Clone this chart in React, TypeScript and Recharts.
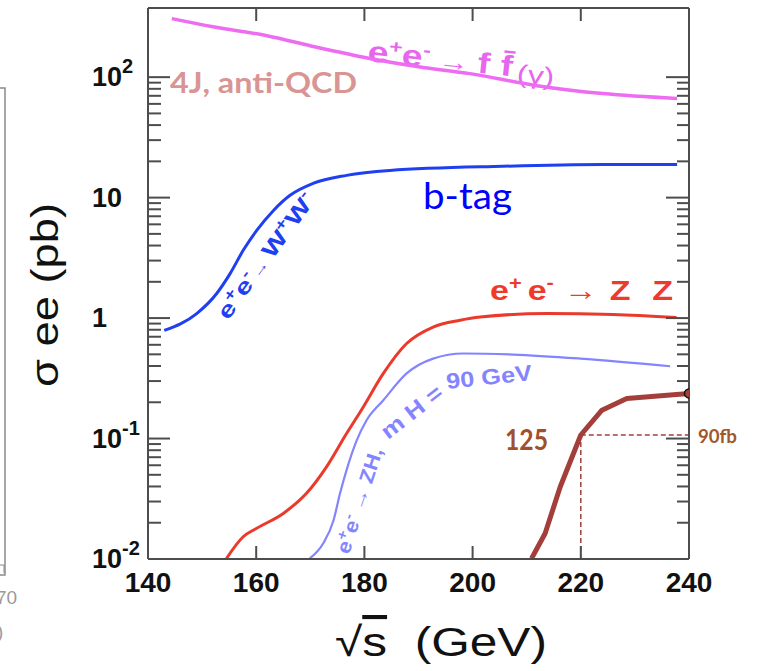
import React from 'react';
import { LineChart, Line, XAxis, YAxis, ReferenceLine, Customized } from 'recharts';

// ---------- data ----------
const ffX = [144.4, 152.0, 162.0, 171.0, 181.0, 190.0, 199.5, 211.9, 224.1, 237.8];
const ffY = [306, 262, 221, 178, 143, 122, 107, 85, 73, 66.5];

const wwX = [143.0, 149.0, 152.7, 155.2, 157.6, 160.1, 163.2, 166.2, 170.5, 176.7, 184.7, 205.6, 224.1, 237.8];
const wwY = [0.79, 1.09, 1.6, 2.35, 3.65, 5.35, 7.83, 10.4, 13.1, 15.3, 16.8, 18.2, 18.8, 18.8];

const zzX = [154.5, 157.6, 160.1, 165.0, 169.3, 173.0, 176.7, 179.8, 183.5, 187.8, 192.7, 197.7, 201.4, 213.7, 226.0, 237.7];
const zzY = [0.0101, 0.0153, 0.018, 0.0239, 0.0351, 0.0582, 0.11, 0.183, 0.347, 0.615, 0.843, 0.96, 1.02, 1.09, 1.07, 1.01];

const zhX = [169.9, 172.4, 174.3, 175.5, 176.7, 178.6, 180.4, 183.5, 187.8, 192.7, 198.3, 207.5, 219.9, 236.5];
const zhY = [0.0101, 0.0135, 0.021, 0.0351, 0.0547, 0.097, 0.142, 0.208, 0.347, 0.461, 0.508, 0.498, 0.461, 0.398];

const h125X = [210.9, 213.4, 216.2, 220.0, 223.9, 228.5, 240.0];
const h125Y = [0.0101, 0.0163, 0.0398, 0.107, 0.172, 0.215, 0.237];

const higgsX = 220;
const higgsXsec = 0.107;

const xTicks = [140, 160, 180, 200, 220, 240];
const xTickLabels = ['140', '160', '180', '200', '220', '240'];

const yDecades = [0.01, 0.1, 1, 10, 100];
const yDecadeBase = ['10', '10', '1', '10', '10'];
const yDecadeExp = ['-2', '-1', '', '', '2'];
const yMinorMult = [2, 3, 4, 5, 6, 7, 8, 9];

const xDomain = [140, 240];
const yDomain = [0.01, 375];

// ---------- derived tables ----------
const zip = (xs: number[], ys: number[]) => xs.map((x, i) => ({ x, y: ys[i] }));
const ffData = zip(ffX, ffY);
const wwData = zip(wwX, wwY);
const zzData = zip(zzX, zzY);
const zhData = zip(zhX, zhY);
const h125Data = zip(h125X, h125Y);

const yTicks: number[] = [];
yDecades.forEach((d, i) => {
  yTicks.push(d);
  if (i < yDecades.length - 1) yMinorMult.forEach((m) => yTicks.push(d * m));
});

// ---------- layout ----------
const W = 757;
const H = 671;
const PL = 148;
const PR = 689;
const PT = 8;
const PB = 559;
const FRAME = '#4d4d4d';
const SANS = "'Liberation Sans', Arial, Helvetica, sans-serif";
const CAL = "Lato, 'Open Sans', sans-serif";
const FIT = 'spacingAndGlyphs';

const LeftTick = (p: any) => {
  const v = p.payload.value;
  const k = yDecades.indexOf(v);
  const y = p.y;
  return (
    <g>
      <line x1={PL} x2={PL + (k >= 0 ? 22 : 13)} y1={y} y2={y} stroke={FRAME} strokeWidth={2} />
      {k >= 0 && (
        <text x={92} y={y + 9} fontSize={27} fontWeight="bold" fontFamily={SANS} fill="#111">
          {yDecadeBase[k]}
          {yDecadeExp[k] ? (
            <tspan dy={-13} fontSize={20}>
              {yDecadeExp[k]}
            </tspan>
          ) : null}
        </text>
      )}
    </g>
  );
};

const RightTick = (p: any) => {
  const v = p.payload.value;
  const k = yDecades.indexOf(v);
  const y = p.y;
  return <line x1={PR} x2={PR - (k >= 0 ? 23 : 12)} y1={y} y2={y} stroke={FRAME} strokeWidth={2} />;
};

const BottomTick = (p: any) => {
  const v = p.payload.value;
  const i = xTicks.indexOf(v);
  const x = p.x;
  const inner = v !== xDomain[0] && v !== xDomain[1];
  return (
    <g>
      {inner && <line x1={x} x2={x} y1={PB} y2={PB - 13} stroke={FRAME} strokeWidth={2} />}
      <text x={x} y={592} textAnchor="middle" fontSize={28} fontWeight="bold" fontFamily={SANS} fill="#111">
        {xTickLabels[i]}
      </text>
    </g>
  );
};

const TopTick = (p: any) => {
  const v = p.payload.value;
  const x = p.x;
  const inner = v !== xDomain[0] && v !== xDomain[1];
  return <g>{inner && <line x1={x} x2={x} y1={PT} y2={PT + 13} stroke={FRAME} strokeWidth={2} />}</g>;
};

const Annotations = () => (
  <g>
    {/* remnant of neighbouring figure at the left edge */}
    <polyline points="0,88 5,88 5,575 0,575" fill="none" stroke="#8a8a8a" strokeWidth={1.5} />
    <polyline points="0,565 4,565 4,573" fill="none" stroke="#8a8a8a" strokeWidth={1} />
    <text x={-4} y={604} fontSize={19} fill="#9a9a9a" fontFamily={SANS}>70</text>
    <text x={-3} y={638} fontSize={19} fill="#9a9a9a" fontFamily={SANS}>)</text>

    {/* e+e- -> f fbar (gamma) */}
    <text
      x={367}
      y={61}
      fill="#e766ee"
      fontWeight="bold"
      fontSize={29}
      fontFamily={SANS}
      transform="rotate(6 367 61)"
      textLength={188}
      lengthAdjust={FIT}
    >
      e<tspan dy={-11} fontSize={18}>+</tspan>
      <tspan dy={11}>e</tspan>
      <tspan dy={-11} fontSize={18}>-</tspan>
      <tspan dy={11} fontSize={24}> → </tspan>
      <tspan>f f̄</tspan>
      <tspan dy={5} dx={4} fontSize={25} fontWeight="normal">(γ)</tspan>
    </text>

    <text x={170} y={93} fill="#d99593" fontWeight="bold" fontSize={29} fontFamily={CAL} textLength={187} lengthAdjust={FIT}>
      4J, anti-QCD
    </text>

    <text x={423} y={209} fill="#0000ff" fontSize={36} fontFamily={CAL} textLength={89} lengthAdjust={FIT}>
      b-tag
    </text>

    {/* e+e- -> W+W- */}
    <text
      x={228}
      y={321}
      fill="#1e40f0"
      fontWeight="bold"
      fontSize={22}
      fontFamily={SANS}
      transform="rotate(-54 228 321)"
      textLength={150}
      lengthAdjust={FIT}
    >
      e<tspan dy={-9} fontSize={15}>+</tspan>
      <tspan dy={9}>e</tspan>
      <tspan dy={-9} fontSize={15}>-</tspan>
      <tspan dy={9} fontSize={14}>→ </tspan>
      <tspan>W</tspan>
      <tspan dy={-9} fontSize={15}>+</tspan>
      <tspan dy={9}>W</tspan>
      <tspan dy={-9} fontSize={15}>-</tspan>
    </text>

    {/* e+e- -> ZZ */}
    <text x={490} y={300} fill="#ee3a2a" fontWeight="bold" fontSize={28} fontFamily={SANS} textLength={183} lengthAdjust={FIT}>
      e<tspan dy={-11} fontSize={18}>+</tspan>
      <tspan dy={11} dx={5}>e</tspan>
      <tspan dy={-11} fontSize={18}>-</tspan>
      <tspan dy={11} dx={8} fontWeight="normal">→</tspan>
      <tspan dx={10}>Z</tspan>
      <tspan dx={18}>Z</tspan>
    </text>

    {/* e+e- -> ZH, mH = 90 GeV (curved along the line) */}
    <text
      x={349}
      y={555}
      fill="#8484ff"
      fontWeight="bold"
      fontSize={20}
      fontFamily={SANS}
      transform="rotate(-72 349 555)"
      textLength={110}
      lengthAdjust={FIT}
    >
      e<tspan dy={-8} fontSize={14}>+</tspan>
      <tspan dy={8}>e</tspan>
      <tspan dy={-8} fontSize={14}>-</tspan>
      <tspan dy={8}> → ZH,</tspan>
    </text>
    <text
      x={388}
      y={440}
      fill="#8484ff"
      fontWeight="bold"
      fontSize={22}
      fontFamily={SANS}
      transform="rotate(-38 388 440)"
      textLength={72}
      lengthAdjust={FIT}
    >
      m H =
    </text>
    <text
      x={447}
      y={389}
      fill="#8484ff"
      fontWeight="bold"
      fontSize={22}
      fontFamily={SANS}
      transform="rotate(-6 447 389)"
      textLength={86}
      lengthAdjust={FIT}
    >
      90 GeV
    </text>

    <text x={505} y={450} fill="#a0502a" fontWeight="bold" fontSize={29} fontFamily={CAL} textLength={43} lengthAdjust={FIT}>
      125
    </text>
    <text x={698} y={443} fill="#a0582a" fontWeight="bold" fontSize={19} fontFamily={CAL} textLength={39} lengthAdjust={FIT}>
      90fb
    </text>

    {/* axis titles */}
    <text
      x={45}
      y={295}
      textAnchor="middle"
      dominantBaseline="central"
      fontSize={38}
      fontFamily={SANS}
      fill="#111"
      transform="rotate(-90 45 295)"
      textLength={184}
      lengthAdjust={FIT}
      style={{ whiteSpace: 'pre' }}
    >
      σ ee (pb)
    </text>
    <text
      x={335}
      y={656}
      fontSize={41}
      fontFamily={SANS}
      fill="#111"
      textLength={212}
      lengthAdjust={FIT}
      style={{ whiteSpace: 'pre' }}
    >
      √<tspan textDecoration="overline">s</tspan>  (GeV)
    </text>
  </g>
);

const H125Dot = (p: any) => {
  if (p.index === h125Data.length - 1) {
    return <circle key="h125-end" cx={p.cx} cy={p.cy} r={4.5} fill="#a23f3b" stroke="#111" strokeWidth={1.5} />;
  }
  return <g key={`h125-${p.index}`} />;
};

export default function App() {
  return (
    <div style={{ width: W, height: H, background: '#fff' }}>
      <style>{'body{margin:0;background:#fff;}'}</style>
      <LineChart width={W} height={H} margin={{ top: 7, right: 67, bottom: 72, left: 88 }}>
        <XAxis
          dataKey="x"
          type="number"
          domain={xDomain}
          ticks={xTicks}
          interval={0}
          allowDataOverflow
          height={40}
          axisLine={{ stroke: FRAME, strokeWidth: 2 }}
          tickLine={false}
          tick={BottomTick}
        />
        <XAxis
          xAxisId="t"
          orientation="top"
          dataKey="x"
          type="number"
          domain={xDomain}
          ticks={xTicks}
          interval={0}
          allowDataOverflow
          height={1}
          axisLine={{ stroke: FRAME, strokeWidth: 2 }}
          tickLine={false}
          tick={TopTick}
        />
        <YAxis
          type="number"
          scale="log"
          domain={yDomain}
          ticks={yTicks}
          interval={0}
          allowDataOverflow
          width={60}
          axisLine={{ stroke: FRAME, strokeWidth: 2 }}
          tickLine={false}
          tick={LeftTick}
        />
        <YAxis
          yAxisId="r"
          orientation="right"
          type="number"
          scale="log"
          domain={yDomain}
          ticks={yTicks}
          interval={0}
          allowDataOverflow
          width={1}
          axisLine={{ stroke: FRAME, strokeWidth: 2 }}
          tickLine={false}
          tick={RightTick}
        />
        <Line data={ffData} dataKey="y" type="monotone" stroke="#ee6cf2" strokeWidth={3.5} dot={false} isAnimationActive={false} />
        <Line data={wwData} dataKey="y" type="monotone" stroke="#1e40f0" strokeWidth={3} dot={false} isAnimationActive={false} />
        <Line data={zzData} dataKey="y" type="monotone" stroke="#ea3a2c" strokeWidth={3} dot={false} isAnimationActive={false} />
        <Line data={zhData} dataKey="y" type="monotone" stroke="#8484ff" strokeWidth={2.2} dot={false} isAnimationActive={false} />
        <ReferenceLine
          segment={[{ x: higgsX, y: higgsXsec }, { x: xDomain[1], y: higgsXsec }]}
          stroke="#a0403a"
          strokeWidth={1.5}
          strokeDasharray="5 3"
        />
        <ReferenceLine
          segment={[{ x: higgsX, y: yDomain[0] }, { x: higgsX, y: higgsXsec }]}
          stroke="#a0403a"
          strokeWidth={1.5}
          strokeDasharray="5 3"
        />
        <Line
          data={h125Data}
          dataKey="y"
          type="linear"
          stroke="#a23f3b"
          strokeWidth={5}
          strokeLinejoin="round"
          dot={H125Dot}
          isAnimationActive={false}
        />
        <Customized component={Annotations} />
      </LineChart>
    </div>
  );
}
